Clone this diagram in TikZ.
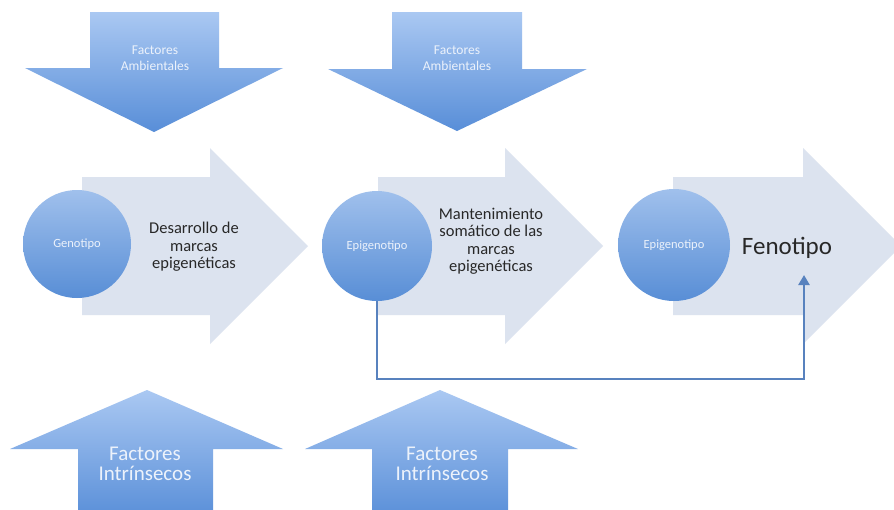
\documentclass[tikz,border=0pt]{standalone}
\usepackage{fontspec}
\setmainfont{Carlito}
\usetikzlibrary{arrows.meta}
\definecolor{harrow}{RGB}{220,227,239}
\definecolor{bluelight}{RGB}{170,200,242}
\definecolor{bluedark}{RGB}{88,142,216}
\definecolor{circlight}{RGB}{160,192,236}
\definecolor{circdark}{RGB}{88,142,214}
\definecolor{linkblue}{RGB}{88,130,190}
\definecolor{lighttext}{RGB}{236,242,251}
\definecolor{darktext}{RGB}{40,40,40}
\begin{document}
\begin{tikzpicture}[x=1pt,y=-1pt,
  bigarrow/.style={fill=harrow},
  bluearrow/.style={top color=bluelight,bottom color=bluedark},
  circstyle/.style={circle,inner sep=0pt,top color=circlight,bottom color=circdark,text=lighttext,font=\fontsize{12.5}{14}\selectfont},
  ambtext/.style={text=lighttext,align=center,font=\fontsize{13.5}{16.5}\selectfont},
  inttext/.style={text=lighttext,align=center,font=\fontsize{21}{19.5}\selectfont},
  proctext/.style={text=darktext,align=center,font=\fontsize{16.5}{17.5}\selectfont},
  link/.style={draw=linkblue,line width=2.5pt,-{Triangle[length=10pt,width=11pt]}}
]
\useasboundingbox (0,0) rectangle (894,509);
\clip (0,0) rectangle (894,509);
\fill[white] (0,0) rectangle (894,509);
% horizontal process arrows
\path[bigarrow] (82,177) -- (210,177) -- (210,148) -- (308,246) -- (210,344) -- (210,315) -- (82,315) -- cycle;
\path[bigarrow] (378,177) -- (505,177) -- (505,148) -- (603,246) -- (505,344) -- (505,315) -- (378,315) -- cycle;
\path[bigarrow] (673,177) -- (803,177) -- (803,148) -- (901,246) -- (803,344) -- (803,315) -- (673,315) -- cycle;
% top arrows (environmental factors)
\shade[bluearrow] (90,12) -- (219,12) -- (219,68) -- (283,68) -- (154,132) -- (25,68) -- (90,68) -- cycle;
\shade[bluearrow] (392,12) -- (522,12) -- (522,69) -- (587,69) -- (457,131) -- (328,69) -- (392,69) -- cycle;
% bottom arrows (intrinsic factors)
\shade[bluearrow] (147,390) -- (283,449) -- (213,449) -- (213,520) -- (78,520) -- (78,449) -- (10,449) -- cycle;
\shade[bluearrow] (440,390) -- (578,449) -- (508,449) -- (508,520) -- (372,520) -- (372,449) -- (305,449) -- cycle;
% circles
\node[circstyle,minimum size=108pt] (geno) at (77,244) {Genotipo};
\node[circstyle,minimum size=110pt] (epi1) at (377,246) {Epigenotipo};
\node[circstyle,minimum size=112pt] (epi2) at (674,245) {Epigenotipo};
% texts
\node[ambtext] (amb1) at (155,58) {Factores\\Ambientales};
\node[ambtext] (amb2) at (457,58) {Factores\\Ambientales};
\node[inttext] (int1) at (145,464) {Factores\\Intrínsecos};
\node[inttext] (int2) at (442,464) {Factores\\Intrínsecos};
\node[proctext] (des) at (194,247) {Desarrollo de\\marcas\\epigenéticas};
\node[proctext] (man) at (491,241) {Mantenimiento\\somático de las\\marcas\\epigenéticas};
\node[text=darktext,font=\fontsize{25}{28}\selectfont] (feno) at (787,248) {Fenotipo};
% connector
\coordinate (corner) at (377,379);
\coordinate (fenin) at (804,275);
\draw[link] (epi1.south) -- (corner) -| (fenin);
\end{tikzpicture}
\end{document}
